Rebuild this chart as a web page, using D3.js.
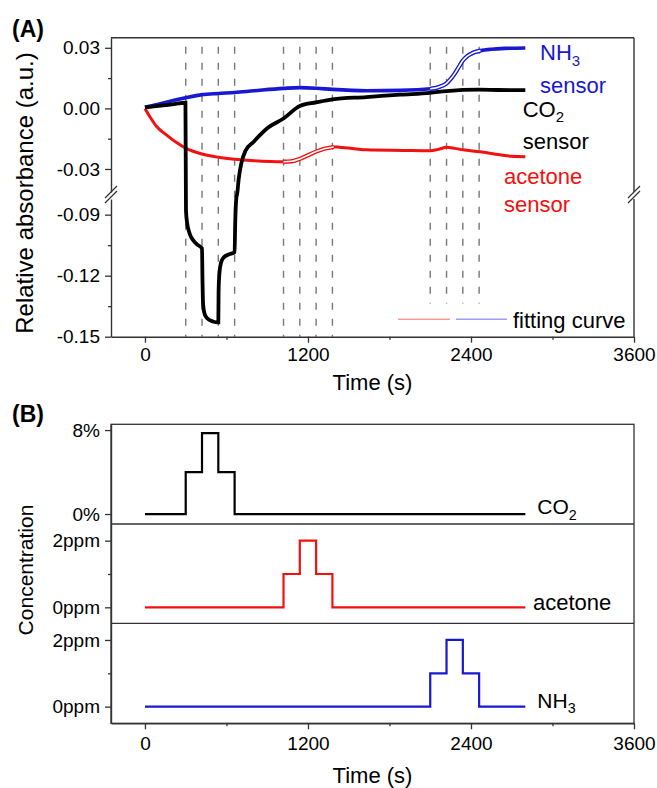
<!DOCTYPE html>
<html><head><meta charset="utf-8">
<script src="https://cdn.jsdelivr.net/npm/d3@7"></script>
<style>
body{margin:0;background:#fff}
svg{display:block}
text{font-family:"Liberation Sans",Arial,Helvetica,sans-serif}
</style>
</head><body>
<svg id="c" width="657" height="788"></svg>
<script>
// ---------------- DATA ----------------
const xTicks = [0, 1200, 2400, 3600];
const xMinorTicks = [600, 1800, 3000];
const yUpperTicks = [0.03, 0.00, -0.03];
const yUpperMinor = [0.015, -0.015];
const yLowerTicks = [-0.09, -0.12, -0.15];
const yLowerMinor = [-0.105, -0.135];

// NH3 sensor (blue)
const nh3SensorT = [0, 100, 200, 300, 420, 540, 660, 800, 1020, 1140, 1260, 1380, 1630, 1880, 2100, 2160, 2220, 2250, 2280, 2310, 2340, 2370, 2400, 2430, 2470, 2550, 2650, 2800];
const nh3SensorV = [0.0005, 0.002, 0.0038, 0.0053, 0.0068, 0.0074, 0.0079, 0.0087, 0.0099, 0.0103, 0.0100, 0.0094, 0.0087, 0.0089, 0.0097, 0.0105, 0.0124, 0.0145, 0.0172, 0.0205, 0.0237, 0.0258, 0.0270, 0.0279, 0.0286, 0.0293, 0.0297, 0.0299];
const nh3FitRange = [2100, 2470];

// CO2 sensor (black)
const co2SensorT = [0, 100, 200, 298, 302, 310, 330, 360, 390, 420, 423, 428, 440, 460, 500, 540, 542, 548, 560, 580, 620, 660, 664, 672, 680, 690, 710, 740, 800, 900, 1020, 1140, 1260, 1380, 1630, 1880, 2100, 2220, 2460, 2600, 2800];
const co2SensorV = [0.0005, 0.0012, 0.002, 0.0028, -0.088, -0.094, -0.0995, -0.1030, -0.1050, -0.1065, -0.120, -0.134, -0.139, -0.141, -0.1425, -0.143, -0.128, -0.119, -0.1135, -0.111, -0.1095, -0.1085, -0.095, -0.082, -0.045, -0.035, -0.027, -0.021, -0.0165, -0.0098, -0.005, 0.0012, 0.003, 0.0045, 0.0056, 0.0068, 0.0077, 0.0086, 0.0093, 0.0091, 0.009];

// acetone sensor (red)
const acetoneSensorT = [0, 40, 86, 160, 230, 300, 420, 540, 660, 800, 1020, 1080, 1140, 1200, 1260, 1320, 1390, 1430, 1630, 1900, 2100, 2160, 2220, 2280, 2340, 2466, 2613, 2700, 2800];
const acetoneSensorV = [0, -0.0045, -0.009, -0.0132, -0.0168, -0.0197, -0.0226, -0.0242, -0.0252, -0.0259, -0.0264, -0.0262, -0.0250, -0.0232, -0.0214, -0.0200, -0.0191, -0.0192, -0.0205, -0.0208, -0.0210, -0.0203, -0.0193, -0.0198, -0.0205, -0.0215, -0.0230, -0.0237, -0.0239];
const acetoneFitRange = [1020, 1390];

// gas switching times (dashed markers)
const co2Switch = [300, 420, 540, 660];
const acetoneSwitch = [1020, 1140, 1260, 1380];
const nh3Switch = [2100, 2220, 2340, 2460];

// concentration profiles (step after)
const co2ConcT = [0, 300, 420, 540, 660, 2800];
const co2ConcV = [0, 4, 7.7, 4, 0, 0];
const acetoneConcT = [0, 1020, 1140, 1260, 1380, 2800];
const acetoneConcV = [0, 1, 2, 1, 0, 0];
const nh3ConcT = [0, 2100, 2220, 2340, 2460, 2800];
const nh3ConcV = [0, 1, 2, 1, 0, 0];

const co2ConcTicks = [0, 8];
const ppmTicks = [0, 2];
const ppmMinor = [1];

// ---------------- LAYOUT ----------------
const BLUE = "#1818d2", RED = "#f21010", BLACK = "#000";
const AX = "#333";
const svg = d3.select("#c");
const L = 111, R = 634;
const A = {top: 37.7, brkTop: 192, brkBot: 199, bottom: 336.7};
const B = {top: 424.3, s1: 524, s2: 623.3, bottom: 723.3};

const x = d3.scaleLinear().domain([-250, 3600]).range([L, R]);
const yU = d3.scaleLinear().domain([-0.0414, 0.035]).range([A.brkTop, A.top]);
const yLo = d3.scaleLinear().domain([-0.15, -0.0823]).range([A.bottom, A.brkBot]);
const yA = d3.scaleLinear().domain([-0.15, -0.0823, -0.0414, 0.035]).range([A.bottom, A.brkBot, A.brkTop, A.top]);
const fmtInt = d3.format("d");

function styleAxis(g, fs) {
  g.selectAll("path.domain").attr("stroke", AX).attr("stroke-width", 1.4);
  g.selectAll(".tick line").attr("stroke", AX).attr("stroke-width", 1.3);
  g.selectAll(".tick text").attr("fill", "#000").style("font-size", fs + "px")
    .style("font-family", '"Liberation Sans",Arial,sans-serif');
}
function minorAxis(axisFn, scale, vals, transform) {
  const g = svg.append("g").attr("transform", transform)
    .call(axisFn(scale).tickValues(vals).tickSize(3).tickFormat(""));
  g.select("path.domain").remove();
  g.selectAll(".tick line").attr("stroke", AX).attr("stroke-width", 1.3);
}

// ---------------- PANEL A ----------------
function dashed(times, y1) {
  svg.append("g").selectAll("line").data(times).join("line")
    .attr("x1", d => x(d)).attr("x2", d => x(d))
    .attr("y1", 46.7).attr("y2", y1)
    .attr("stroke", "#777").attr("stroke-width", 1.4)
    .attr("stroke-dasharray", "7,9");
}
dashed(co2Switch, A.bottom);
dashed(acetoneSwitch, A.bottom);
dashed(nh3Switch, 303.5);

const lineA = d3.line().x(d => x(d[0])).y(d => yA(d[1])).curve(d3.curveMonotoneX);
const zip = (t, v) => t.map((d, i) => [d, v[i]]);

const redData = zip(acetoneSensorT, acetoneSensorV);
const blackData = zip(co2SensorT, co2SensorV);
const blueData = zip(nh3SensorT, nh3SensorV);

svg.append("path").attr("d", lineA(redData))
  .attr("fill", "none").attr("stroke", RED).attr("stroke-width", 3);
svg.append("path").attr("d", lineA(blueData))
  .attr("fill", "none").attr("stroke", BLUE).attr("stroke-width", 3.6);
svg.append("path").attr("d", lineA(blackData))
  .attr("fill", "none").attr("stroke", BLACK).attr("stroke-width", 3.8);

// fitting curves (double line)
function fitCurve(data, range, color) {
  const seg = data.filter(d => d[0] >= range[0] && d[0] <= range[1]);
  const p = lineA(seg);
  svg.append("path").attr("d", p).attr("fill", "none").attr("stroke", color).attr("stroke-width", 4.2);
  svg.append("path").attr("d", p).attr("fill", "none").attr("stroke", "#fff").attr("stroke-width", 1.6);
}
fitCurve(redData, acetoneFitRange, RED);
fitCurve(blueData, nh3FitRange, BLUE);

// frame
svg.append("line").attr("x1", L).attr("x2", R).attr("y1", A.top).attr("y2", A.top).attr("stroke", AX).attr("stroke-width", 1.4);
svg.append("line").attr("x1", R).attr("x2", R).attr("y1", A.top).attr("y2", A.brkTop).attr("stroke", AX).attr("stroke-width", 1.4);
svg.append("line").attr("x1", R).attr("x2", R).attr("y1", A.brkBot).attr("y2", A.bottom).attr("stroke", AX).attr("stroke-width", 1.4);

// axes
const gxA = svg.append("g").attr("transform", `translate(0,${A.bottom})`)
  .call(d3.axisBottom(x).tickValues(xTicks).tickFormat(fmtInt).tickSize(6).tickSizeOuter(0).tickPadding(5));
styleAxis(gxA, 19);
minorAxis(d3.axisBottom, x, xMinorTicks, `translate(0,${A.bottom})`);

const fmt2 = v => v.toFixed(2);
const gyU = svg.append("g").attr("transform", `translate(${L},0)`)
  .call(d3.axisLeft(yU).tickValues(yUpperTicks).tickFormat(fmt2).tickSize(6).tickSizeOuter(0).tickPadding(5));
styleAxis(gyU, 19);
minorAxis(d3.axisLeft, yU, yUpperMinor, `translate(${L},0)`);
const gyL = svg.append("g").attr("transform", `translate(${L},0)`)
  .call(d3.axisLeft(yLo).tickValues(yLowerTicks).tickFormat(fmt2).tickSize(6).tickSizeOuter(0).tickPadding(5));
styleAxis(gyL, 19);
minorAxis(d3.axisLeft, yLo, yLowerMinor, `translate(${L},0)`);

// break marks
[L, R].forEach(cx => {
  const cy = (A.brkTop + A.brkBot) / 2;
  [-2.5, 2.5].forEach(off => {
    svg.append("line")
      .attr("x1", cx - 6).attr("y1", cy + 5 + off)
      .attr("x2", cx + 6).attr("y2", cy - 7 + off)
      .attr("stroke", AX).attr("stroke-width", 1.3);
  });
});

// labels panel A
svg.append("text").attr("x", 12).attr("y", 36.7).attr("font-weight", "bold").attr("font-size", 23).text("(A)");
svg.append("text").attr("transform", `translate(33,193) rotate(-90)`).attr("text-anchor", "middle")
  .attr("font-size", 24).text("Relative absorbance (a.u.)");
svg.append("text").attr("x", (L + R) / 2).attr("y", 390).attr("text-anchor", "middle").attr("font-size", 22).text("Time (s)");

function subLabel(xp, yp, main, sub, color, fs) {
  const t = svg.append("text").attr("x", xp).attr("y", yp).attr("font-size", fs).attr("fill", color);
  t.append("tspan").text(main);
  if (sub) t.append("tspan").attr("font-size", fs * 0.68).attr("dy", 5.5).text(sub);
}
subLabel(540, 60, "NH", "3", BLUE, 22);
subLabel(540, 92.7, "sensor", null, BLUE, 22);
subLabel(522.7, 116.7, "CO", "2", BLACK, 22);
subLabel(522.7, 149.3, "sensor", null, BLACK, 22);
subLabel(504, 184.3, "acetone", null, RED, 22);
subLabel(504, 211.7, "sensor", null, RED, 22);

// legend for fitting curve
svg.append("line").attr("x1", 398).attr("x2", 450).attr("y1", 319.3).attr("y2", 319.3).attr("stroke", "#ff9a9a").attr("stroke-width", 1.6);
svg.append("line").attr("x1", 456).attr("x2", 507).attr("y1", 319.3).attr("y2", 319.3).attr("stroke", "#9a9aff").attr("stroke-width", 1.6);
svg.append("text").attr("x", 513).attr("y", 328.3).attr("font-size", 22).text("fitting curve");

// ---------------- PANEL B ----------------
const yC = d3.scaleLinear().domain([-0.95, 8.55]).range([B.s1, B.top]);
const yAc = d3.scaleLinear().domain([-0.48, 2.5]).range([B.s2, B.s1]);
const yN = d3.scaleLinear().domain([-0.5, 2.5]).range([B.bottom, B.s2]);

function stepLine(t, v, ys, color) {
  const data = zip(t, v);
  svg.append("path").attr("d", d3.line().curve(d3.curveStepAfter).x(d => x(d[0])).y(d => ys(d[1]))(data))
    .attr("fill", "none").attr("stroke", color).attr("stroke-width", 2.2);
}
stepLine(co2ConcT, co2ConcV, yC, BLACK);
stepLine(acetoneConcT, acetoneConcV, yAc, RED);
stepLine(nh3ConcT, nh3ConcV, yN, BLUE);

svg.append("rect").attr("x", L).attr("y", B.top).attr("width", R - L).attr("height", B.bottom - B.top)
  .attr("fill", "none").attr("stroke", AX).attr("stroke-width", 1.3);
[B.s1, B.s2].forEach(yy => svg.append("line").attr("x1", L).attr("x2", R).attr("y1", yy).attr("y2", yy)
  .attr("stroke", AX).attr("stroke-width", 1.3));

const gC = svg.append("g").attr("transform", `translate(${L},0)`)
  .call(d3.axisLeft(yC).tickValues(co2ConcTicks).tickFormat(d => d + "%").tickSize(6).tickSizeOuter(0).tickPadding(5));
styleAxis(gC, 19);
const gAc = svg.append("g").attr("transform", `translate(${L},0)`)
  .call(d3.axisLeft(yAc).tickValues(ppmTicks).tickFormat(d => d + "ppm").tickSize(6).tickSizeOuter(0).tickPadding(5));
styleAxis(gAc, 19);
minorAxis(d3.axisLeft, yAc, ppmMinor, `translate(${L},0)`);
const gN = svg.append("g").attr("transform", `translate(${L},0)`)
  .call(d3.axisLeft(yN).tickValues(ppmTicks).tickFormat(d => d + "ppm").tickSize(6).tickSizeOuter(0).tickPadding(5));
styleAxis(gN, 19);
minorAxis(d3.axisLeft, yN, ppmMinor, `translate(${L},0)`);

const gxB = svg.append("g").attr("transform", `translate(0,${B.bottom})`)
  .call(d3.axisBottom(x).tickValues(xTicks).tickFormat(fmtInt).tickSize(6).tickSizeOuter(0).tickPadding(7));
styleAxis(gxB, 19);
minorAxis(d3.axisBottom, x, xMinorTicks, `translate(0,${B.bottom})`);

svg.append("text").attr("x", 12).attr("y", 421.7).attr("font-weight", "bold").attr("font-size", 23).text("(B)");
svg.append("text").attr("transform", `translate(33,570) rotate(-90)`).attr("text-anchor", "middle")
  .attr("font-size", 21).text("Concentration");
svg.append("text").attr("x", (L + R) / 2).attr("y", 783).attr("text-anchor", "middle").attr("font-size", 22).text("Time (s)");

subLabel(537.3, 514, "CO", "2", BLACK, 21);
subLabel(533, 610, "acetone", null, BLACK, 22);
subLabel(537.3, 707.7, "NH", "3", BLACK, 21);
</script>
</body></html>
